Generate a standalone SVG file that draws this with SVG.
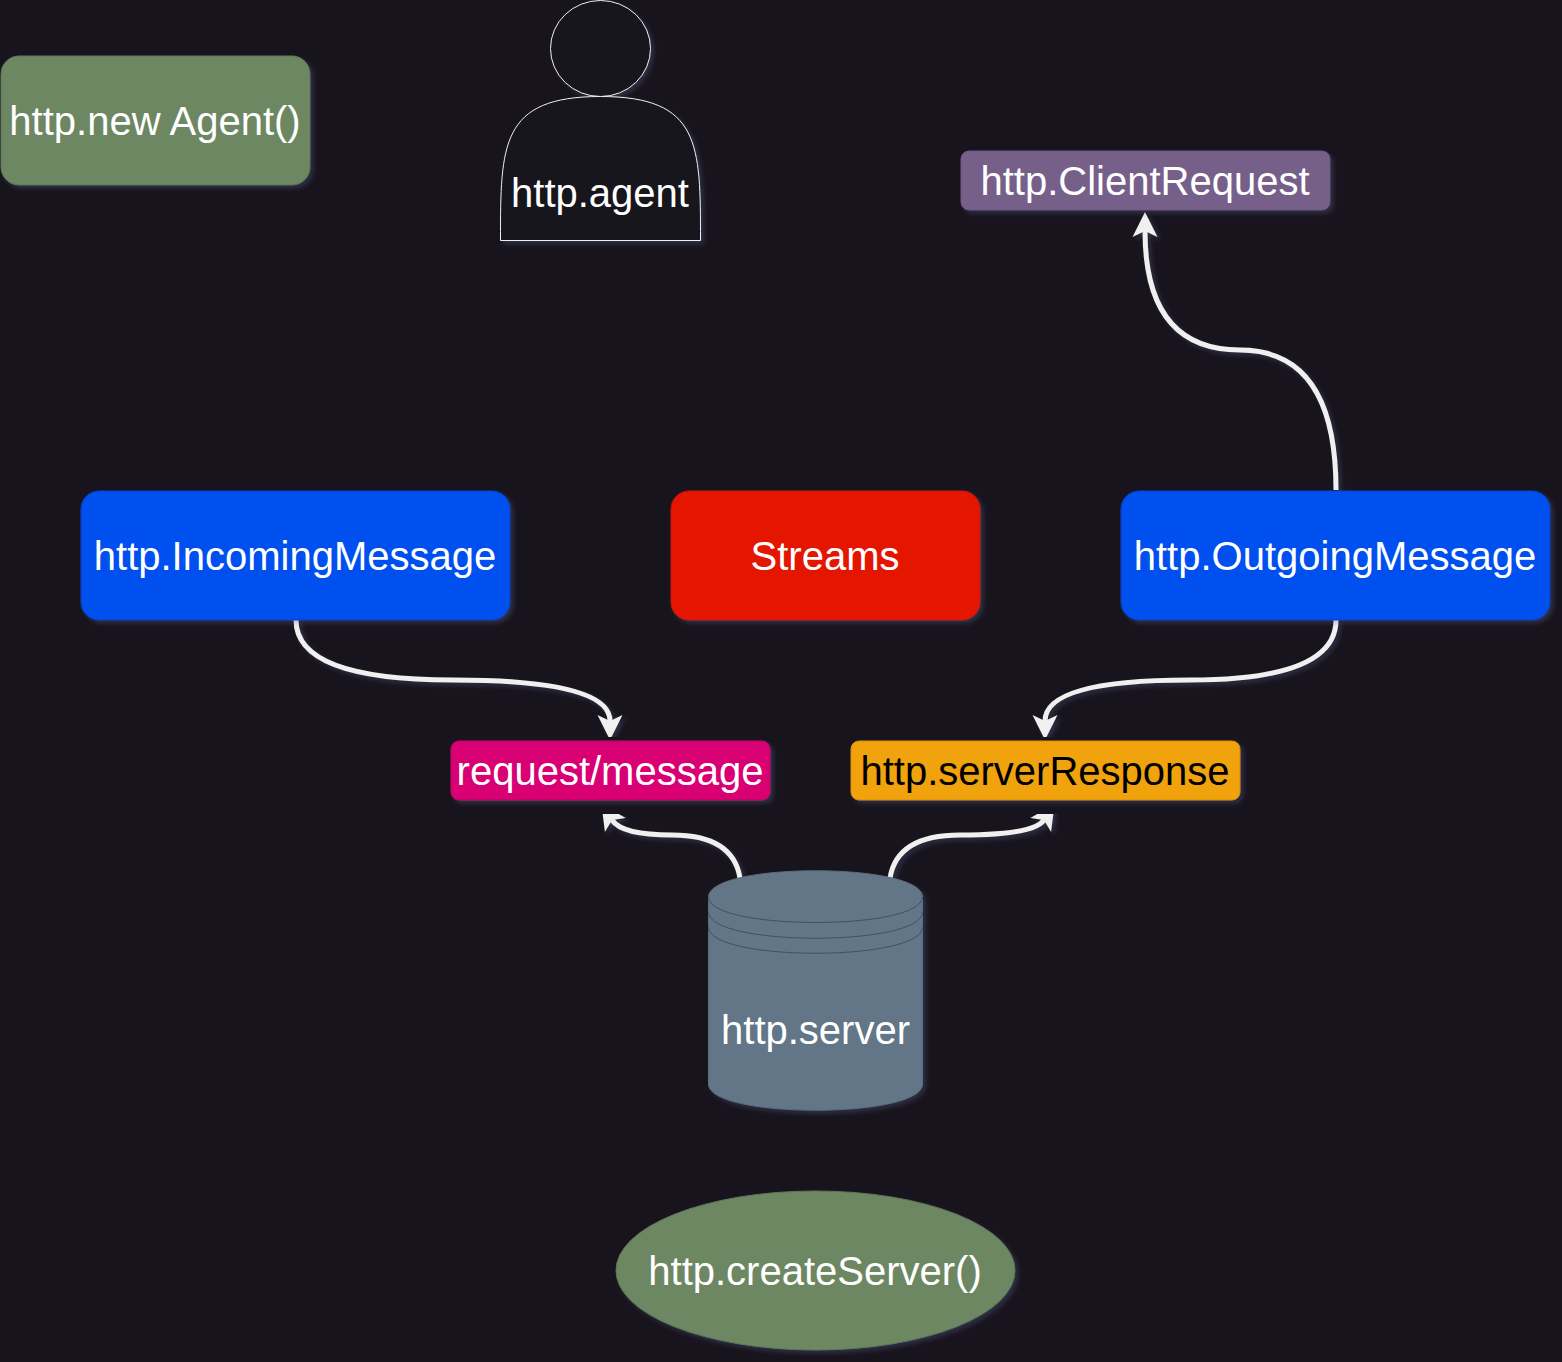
<svg xmlns="http://www.w3.org/2000/svg" width="1562" height="1362" viewBox="0 0 1562 1362">
<style>
text{font-family:"Liberation Sans",Arial,sans-serif;font-size:40px;fill:#fff;text-anchor:middle}
.shape{filter:url(#sh)}
.edge{fill:none;stroke-width:5;filter:url(#sh)}
.w{stroke:#f0f0f0;marker-end:url(#aw)}
.g{stroke:#2ee600;marker-end:url(#ag)}
</style>
<defs>
<filter id="sh" x="-10%" y="-10%" width="125%" height="125%"><feDropShadow dx="3" dy="3" stdDeviation="2" flood-color="#5a6a9a" flood-opacity=".3"/></filter>
<marker id="aw" markerUnits="userSpaceOnUse" markerWidth="26" markerHeight="26" refX="6" refY="13" orient="auto"><polygon points="0,0.5 25,13 0,25.5 6,13" fill="#f0f0f0"/></marker>
<marker id="ag" markerUnits="userSpaceOnUse" markerWidth="26" markerHeight="26" refX="6" refY="13" orient="auto"><polygon points="0,0.5 25,13 0,25.5 6,13" fill="#2ee600"/></marker>
</defs>
<rect width="1562" height="1362" fill="#18141d"/>
<g id="connectors">
<path class="edge g" d="M312 121H481"/>
<path class="edge w" d="M702 180.500H941"/>
<path class="edge w" d="M1336 490Q1336 350 1240 350Q1145 350 1145 231"/>
<path class="edge w" d="M670 555H530"/>
<path class="edge w" d="M981 555H1101"/>
<path class="edge w" d="M296 620Q296 680 453 680Q610 680 610 721"/>
<path class="edge w" d="M1336 620Q1336 680 1190 680Q1045 680 1045 721"/>
<path class="edge w" d="M740 878Q733 835 672 835Q622 835 612 820"/>
<path class="edge w" d="M890 878Q897 835 960 835Q1034 835 1044 820"/>
<path class="edge g" d="M816 1190V1130"/>
</g>
<g id="new-agent"><rect class="shape" x="1" y="56" width="309" height="129" rx="18" fill="#6d8764" stroke="#5f7757"/><text x="155" y="135">http.new Agent()</text></g>
<g id="agent"><g class="shape" fill="#18141d" stroke="#f0f0f0" stroke-width="1"><ellipse cx="600.500" cy="48.500" rx="50" ry="48"/><path d="M500.500 240.500C500.500 144.500 500.500 96.500 600.500 96.500C700.500 96.500 700.500 144.500 700.500 240.500Z"/></g><text x="600" y="207">http.agent</text></g>
<g id="client-request"><rect class="shape" x="961" y="151" width="369" height="59" rx="8" fill="#76608a" stroke="#6a5680"/><text x="1145" y="195">http.ClientRequest</text></g>
<g id="incoming"><rect class="shape" x="81" y="491" width="429" height="129" rx="18" fill="#0050ef" stroke="#0040c8"/><text x="295" y="570">http.IncomingMessage</text></g>
<g id="streams"><rect class="shape" x="671" y="491" width="309" height="129" rx="18" fill="#e51400" stroke="#c81200"/><text x="825" y="570">Streams</text></g>
<g id="outgoing"><rect class="shape" x="1121" y="491" width="429" height="129" rx="18" fill="#0050ef" stroke="#0040c8"/><text x="1335" y="570">http.OutgoingMessage</text></g>
<g id="request"><rect class="shape" x="451" y="741" width="319" height="59" rx="8" fill="#d80073" stroke="#c00068"/><text x="610" y="785">request/message</text></g>
<g id="response"><rect class="shape" x="851" y="741" width="389" height="59" rx="8" fill="#f0a30a" stroke="#d89000"/><text x="1045" y="785" style="fill:#000">http.serverResponse</text></g>
<g id="server"><path class="shape" d="M708.500 897C708.500 862 922.500 862 922.500 897V1084C922.500 1119 708.500 1119 708.500 1084Z" fill="#647687" stroke="#5a6c7d"/><path d="M708.500 897C708.500 931 922.500 931 922.500 897M708.500 912C708.500 947 922.500 947 922.500 912M708.500 927C708.500 962 922.500 962 922.500 927" fill="none" stroke="#3f5062"/><text x="815.500" y="1044">http.server</text></g>
<g id="create-server"><ellipse class="shape" cx="815.500" cy="1270.500" rx="199.500" ry="79.500" fill="#6d8764" stroke="#5f7757"/><text x="815" y="1285">http.createServer()</text></g>
</svg>
